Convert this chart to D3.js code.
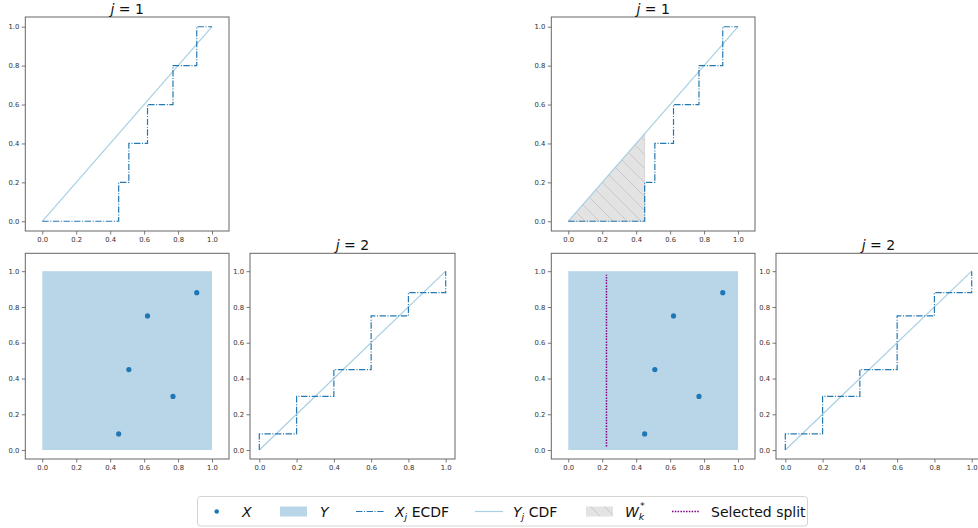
<!DOCTYPE html>
<html>
<head>
<meta charset="utf-8">
<script src="https://cdn.jsdelivr.net/npm/d3@7/dist/d3.min.js"></script>
<style>
body { margin: 0; background: #fff; }
svg { display: block; font-family: "DejaVu Sans", sans-serif; }
</style>
</head>
<body>
<svg id="chart" width="978" height="528"></svg>
<script>
// sample X, coordinate j=1 and j=2
var pointsX1 = [0.45, 0.51, 0.62, 0.77, 0.91];
var pointsX2 = [0.09, 0.45, 0.75, 0.30, 0.88];
// X_1 ECDF (step after)
var ecdf1X = [0, 0.45, 0.51, 0.62, 0.77, 0.91, 1.0];
var ecdf1Y = [0, 0.2, 0.4, 0.6, 0.8, 1.0, 1.0];
// X_2 ECDF (step after)
var ecdf2X = [0, 0, 0.2, 0.4, 0.6, 0.8, 1.0];
var ecdf2Y = [0, 0.09, 0.30, 0.45, 0.75, 0.88, 1.0];
// Y_j CDF
var cdfX = [0, 1];
var cdfY = [0, 1];
// Y support
var boxX = [0, 1];
var boxY = [0, 1];
// W_k* area
var wX = [0, 0.45, 0.45];
var wY = [0, 0.45, 0];
// selected split
var splitX = 0.225;
var splitY = [0.02, 0.98];
var tickVals = [0, 0.2, 0.4, 0.6, 0.8, 1.0];

var cEcdf = "#2479b2", cCdf = "#a8cfe3", cBox = "#b9d5e8", cSplit = "#800080";
var dashDot = "6.4,1.6,1,1.6";

var svg = d3.select("#chart");
var defs = svg.append("defs");
var pat = defs.append("pattern").attr("id", "hatch")
  .attr("patternUnits", "userSpaceOnUse").attr("width", 14).attr("height", 14);
pat.append("rect").attr("width", 14).attr("height", 14).attr("fill", "#e3e3e3");
pat.append("path").attr("d", "M0,0L14,14M-2,12L2,16M12,-2L16,2")
  .attr("stroke", "#c2c2c2").attr("stroke-width", 0.8);

var clipId = 0;
function makePanel(box, xDom, yDom) {
  var x = d3.scaleLinear().domain(xDom).range([box.x0, box.x1]);
  var y = d3.scaleLinear().domain(yDom).range([box.y1, box.y0]);
  var id = "clip" + (clipId++);
  defs.append("clipPath").attr("id", id).append("rect")
    .attr("x", box.x0).attr("y", box.y0)
    .attr("width", box.x1 - box.x0).attr("height", box.y1 - box.y0);
  var g = svg.append("g");
  var plot = g.append("g").attr("clip-path", "url(#" + id + ")");

  var ax = g.append("g").attr("transform", "translate(0," + box.y1 + ")")
    .call(d3.axisBottom(x).tickValues(tickVals).tickFormat(d3.format(".1f")).tickSize(3.5).tickPadding(2.5));
  var ay = g.append("g").attr("transform", "translate(" + box.x0 + ",0)")
    .call(d3.axisLeft(y).tickValues(tickVals).tickFormat(d3.format(".1f")).tickSize(3.5).tickPadding(2.5));
  [ax, ay].forEach(function (a) {
    a.select(".domain").remove();
    a.attr("font-family", "DejaVu Sans").attr("font-size", 6.8);
    a.selectAll("line").attr("stroke", "#555").attr("stroke-width", 0.8);
    a.selectAll("text").attr("fill", "#333");
  });
  g.append("rect").attr("x", box.x0).attr("y", box.y0)
    .attr("width", box.x1 - box.x0).attr("height", box.y1 - box.y0)
    .attr("fill", "none").attr("stroke", "#666").attr("stroke-width", 1);
  return { x: x, y: y, plot: plot, box: box };
}

function zip(xs, ys) { return xs.map(function (v, i) { return [v, ys[i]]; }); }

function drawLine(p, xs, ys, color, dash, curve, width) {
  var line = d3.line().curve(curve || d3.curveLinear)
    .x(function (d) { return p.x(d[0]); }).y(function (d) { return p.y(d[1]); });
  p.plot.append("path").attr("d", line(zip(xs, ys)))
    .attr("fill", "none").attr("stroke", color).attr("stroke-width", width || 1.2)
    .attr("stroke-dasharray", dash || null);
}

function title(p, txt) {
  var t = svg.append("text").attr("x", (p.box.x0 + p.box.x1) / 2).attr("y", p.box.y0 - 3.5)
    .attr("text-anchor", "middle").attr("font-size", 14).attr("fill", "#111");
  t.append("tspan").attr("font-style", "italic").text("j");
  t.append("tspan").text(" = " + txt);
}

function drawGroup(dx, showSplit) {
  // top: j=1 ECDF
  var top = makePanel({ x0: 25.3 + dx, x1: 229 + dx, y0: 17, y1: 231 }, [-0.1, 1.1], [-0.05, 1.05]);
  if (showSplit) {
    top.plot.append("path").attr("d", d3.line()
        .x(function (d) { return top.x(d[0]); }).y(function (d) { return top.y(d[1]); })(zip(wX, wY)) + "Z")
      .attr("fill", "url(#hatch)").attr("stroke", "#c8c8c8").attr("stroke-width", 0.6);
  }
  drawLine(top, cdfX, cdfY, cCdf, null, null, 1.2);
  drawLine(top, ecdf1X, ecdf1Y, cEcdf, dashDot, d3.curveStepAfter, 1.2);
  title(top, "1");

  // bottom left: sample scatter over Y support
  var sc = makePanel({ x0: 25.3 + dx, x1: 229 + dx, y0: 253.3, y1: 459 }, [-0.1, 1.1], [-0.05, 1.1]);
  sc.plot.append("rect").attr("x", sc.x(boxX[0])).attr("y", sc.y(boxY[1]))
    .attr("width", sc.x(boxX[1]) - sc.x(boxX[0])).attr("height", sc.y(boxY[0]) - sc.y(boxY[1]))
    .attr("fill", cBox);
  if (showSplit) {
    sc.plot.append("line").attr("x1", sc.x(splitX)).attr("x2", sc.x(splitX))
      .attr("y1", sc.y(splitY[0])).attr("y2", sc.y(splitY[1]))
      .attr("stroke", cSplit).attr("stroke-width", 1.5).attr("stroke-dasharray", "1.5,1.3");
  }
  sc.plot.selectAll(".pt").data(zip(pointsX1, pointsX2)).enter().append("circle")
    .attr("cx", function (d) { return sc.x(d[0]); })
    .attr("cy", function (d) { return sc.y(d[1]); })
    .attr("r", 2.6).attr("fill", "#1f77b4");

  // bottom right: j=2 ECDF
  var b2 = makePanel({ x0: 250 + dx, x1: 455 + dx, y0: 253.3, y1: 459 }, [-0.05, 1.05], [-0.05, 1.1]);
  drawLine(b2, cdfX, cdfY, cCdf, null, null, 1.2);
  drawLine(b2, ecdf2X, ecdf2Y, cEcdf, dashDot, d3.curveStepAfter, 1.2);
  title(b2, "2");
}

drawGroup(0, false);
drawGroup(526, true);

// legend
var lg = svg.append("g");
lg.append("rect").attr("x", 197.5).attr("y", 496.5).attr("width", 610).attr("height", 29.5)
  .attr("rx", 3).attr("fill", "#fff").attr("stroke", "#d4d4d4").attr("stroke-width", 1);
var ly = 511.5;
lg.append("circle").attr("cx", 216.7).attr("cy", ly).attr("r", 2.3).attr("fill", "#1f77b4");
lg.append("rect").attr("x", 280).attr("y", ly - 5).attr("width", 27).attr("height", 10).attr("fill", cBox);
lg.append("line").attr("x1", 356).attr("x2", 384).attr("y1", ly).attr("y2", ly)
  .attr("stroke", cEcdf).attr("stroke-width", 1.2).attr("stroke-dasharray", dashDot);
lg.append("line").attr("x1", 475).attr("x2", 503).attr("y1", ly).attr("y2", ly)
  .attr("stroke", cCdf).attr("stroke-width", 1.2);
lg.append("rect").attr("x", 586).attr("y", ly - 5).attr("width", 27).attr("height", 10)
  .attr("fill", "url(#hatch)");
lg.append("line").attr("x1", 672).attr("x2", 700).attr("y1", ly).attr("y2", ly)
  .attr("stroke", cSplit).attr("stroke-width", 1.5).attr("stroke-dasharray", "1.5,1.3");

function legText(x, parts) {
  var t = lg.append("text").attr("x", x).attr("y", ly + 5.2).attr("font-size", 14).attr("fill", "#111");
  parts.forEach(function (p) {
    var s = t.append("tspan").text(p.t);
    if (p.i) s.attr("font-style", "italic");
    if (p.sub) s.attr("font-size", 9.5).attr("dy", 3.5);
    if (p.back) s.attr("dy", p.back);
    if (p.dx) s.attr("dx", p.dx);
  });
  return t;
}
legText(242, [{ t: "X", i: true }]);
legText(320, [{ t: "Y", i: true }]);
legText(395, [{ t: "X", i: true }, { t: "j", i: true, sub: true }, { t: " ECDF", back: -3.5 }]);
legText(513, [{ t: "Y", i: true }, { t: "j", i: true, sub: true }, { t: " CDF", back: -3.5 }]);
legText(625, [{ t: "W", i: true }, { t: "k", i: true, sub: true }]);
// superscript star above the subscript k
lg.append("text").attr("x", 640).attr("y", ly - 2.5).attr("font-size", 9.5)
  .attr("font-style", "italic").attr("fill", "#111").text("*");
lg.append("text").attr("x", 711).attr("y", ly + 5.2).attr("font-size", 14).attr("fill", "#111")
  .text("Selected split");
</script>
</body>
</html>
